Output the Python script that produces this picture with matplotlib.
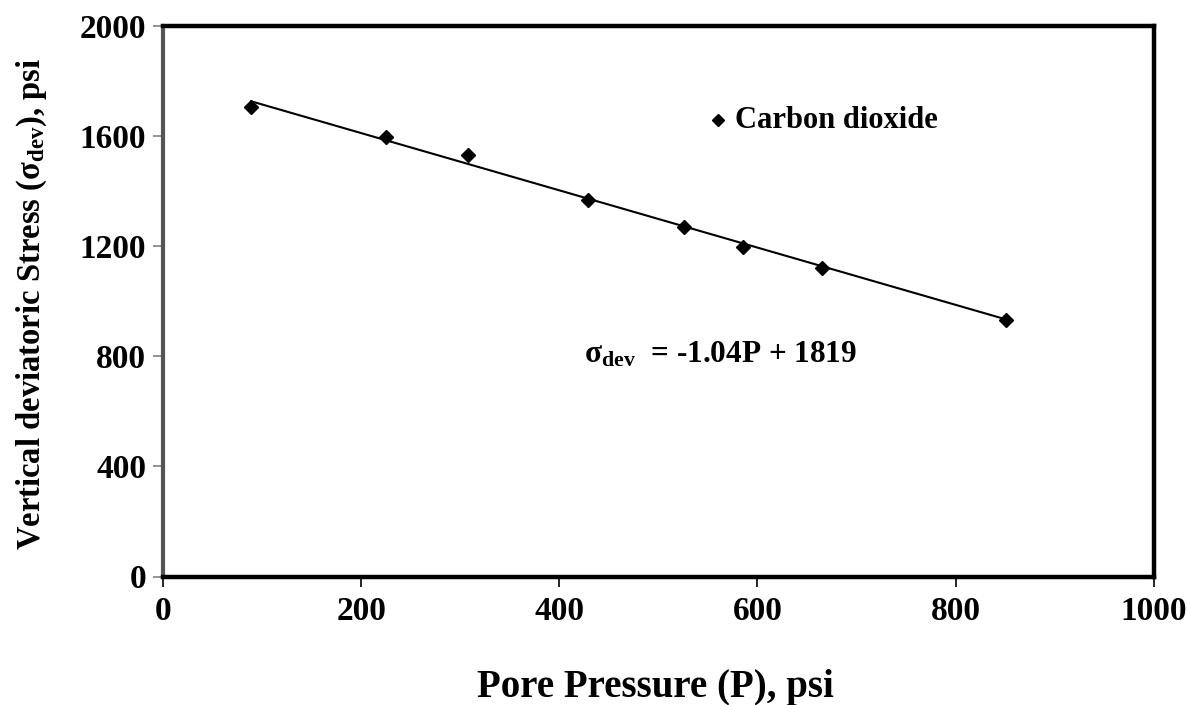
import matplotlib
matplotlib.use("Agg")
import matplotlib.pyplot as plt
import numpy as np

plt.rcParams['font.family'] = ['Liberation Serif', 'DejaVu Serif']
plt.rcParams['font.weight'] = 'bold'
plt.rcParams['mathtext.fontset'] = 'custom'
plt.rcParams['mathtext.rm'] = 'Liberation Serif:bold'
plt.rcParams['mathtext.it'] = 'Liberation Serif:bold'
plt.rcParams['mathtext.bf'] = 'Liberation Serif:bold'

# Measured pore pressure (psi) and vertical deviatoric stress (psi)
pore_pressure = [89, 225, 308, 429, 526, 585, 665, 851]
dev_stress = [1706, 1595, 1530, 1367, 1268, 1198, 1122, 932]

# Linear trend: sigma_dev = slope * P + intercept
slope = -1.04
intercept = 1819

x_ticks = [0, 200, 400, 600, 800, 1000]
y_ticks = [0, 400, 800, 1200, 1600, 2000]

fig = plt.figure(figsize=(11.87, 7.05), dpi=100)
ax = fig.add_axes([163 / 1187, 1 - 576.5 / 705, (1153.7 - 163) / 1187, (576.5 - 26) / 705])

ax.plot(pore_pressure, dev_stress, linestyle='none', marker='D', markersize=7.5,
        color='black', zorder=3)

p_fit = np.array([min(pore_pressure), max(pore_pressure)])
ax.plot(p_fit, slope * p_fit + intercept, color='black', linewidth=1.5, zorder=2)

ax.set_xlim(0, 1000)
ax.set_ylim(0, 2000)
ax.set_xticks(x_ticks)
ax.set_yticks(y_ticks)
ax.tick_params(axis='both', labelsize=24, length=7, width=1.2)
ax.tick_params(axis='y', colors='#808080', labelcolor='black', pad=5)
ax.tick_params(axis='x', color='black', pad=7)
for lbl in ax.get_xticklabels() + ax.get_yticklabels():
    lbl.set_fontweight('bold')

for side in ['top', 'right', 'bottom']:
    ax.spines[side].set_linewidth(3.2)
    ax.spines[side].set_color('black')
ax.spines['left'].set_linewidth(3.0)
ax.spines['left'].set_color('#555555')

ax.set_xlabel('Pore Pressure (P), psi', fontsize=28, fontweight='bold', va='center')
ax.xaxis.set_label_coords(0.497, -0.2025)
ax.set_ylabel(r'Vertical deviatoric Stress ($\mathregular{\sigma_{dev}}$), psi',
              fontsize=23.5, fontweight='bold', va='center')
ax.yaxis.set_label_coords(-0.132, 0.495)

ax.text(425, 805, r'$\mathregular{\sigma_{dev}}$  = -1.04P + 1819', fontsize=22.5,
        fontweight='bold', ha='left', va='center')

# Legend entry
ax.plot([560], [1658], linestyle='none', marker='D', markersize=6, color='black')
ax.text(577, 1658, 'Carbon dioxide', fontsize=22, fontweight='bold',
        ha='left', va='center')

fig.savefig('out.png', dpi=100)
